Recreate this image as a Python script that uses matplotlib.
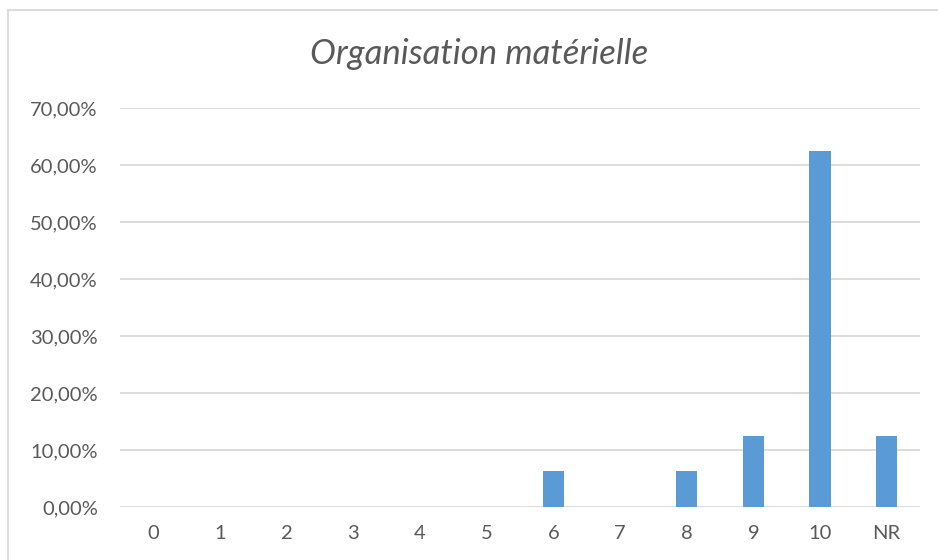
import matplotlib
matplotlib.use("Agg")
import matplotlib.pyplot as plt
from matplotlib.lines import Line2D
from matplotlib.ticker import FuncFormatter

categories = ["0", "1", "2", "3", "4", "5", "6", "7", "8", "9", "10", "NR"]
values = [0, 0, 0, 0, 0, 0, 0.0625, 0, 0.0625, 0.125, 0.625, 0.125]

plt.rcParams["font.family"] = ["Lato", "DejaVu Sans"]
TEXT = "#595959"

fig = plt.figure(figsize=(9.38, 5.6), dpi=100)
ax = fig.add_axes([120 / 938, 1 - 507 / 560, 800 / 938, (507 - 108) / 560])

x = list(range(len(categories)))
ax.bar(x, values, width=0.32, color="#5B9BD5", zorder=3)
ax.set_xlim(-0.5, len(categories) - 0.5)
ax.set_ylim(0, 0.7)
ax.set_yticks([i / 10 for i in range(8)])
ax.yaxis.set_major_formatter(FuncFormatter(lambda v, _: f"{v * 100:.2f}%".replace(".", ",")))
ax.set_xticks(x)
ax.set_xticklabels(categories)
ax.tick_params(length=0, labelsize=14.5, colors=TEXT)
ax.tick_params(axis="x", pad=13)
ax.tick_params(axis="y", pad=16)
ax.grid(axis="y", color="#D9D9D9", linewidth=1.3, zorder=0)
for s in ax.spines.values():
    s.set_visible(False)

fig.text(479 / 938, 1 - 54 / 560, "Organisation matérielle", ha="center", va="center",
         fontsize=25, style="italic", color=TEXT)

# chart frame (top and left edges visible)
fig.add_artist(Line2D([8 / 938, 1], [1 - 9.5 / 560] * 2, transform=fig.transFigure, color="#D9D9D9", lw=1.3))
fig.add_artist(Line2D([8 / 938] * 2, [0, 1 - 9.5 / 560], transform=fig.transFigure, color="#D9D9D9", lw=1.3))

fig.savefig("out.png", dpi=100)
